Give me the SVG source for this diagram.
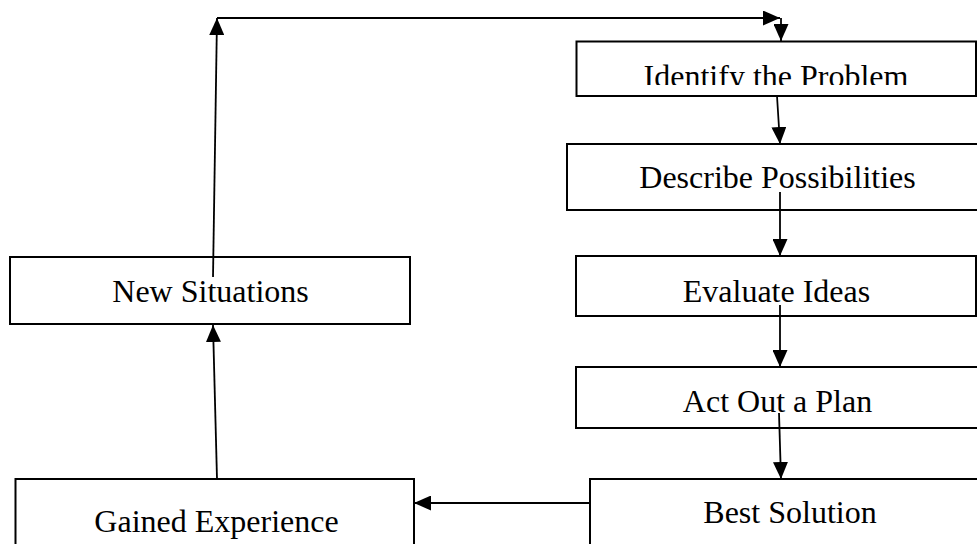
<svg xmlns="http://www.w3.org/2000/svg" width="977" height="544" viewBox="0 0 977 544">
<style>
.box{fill:#fff;stroke:#000;stroke-width:2}
.lbl{font-family:"Liberation Serif","Times New Roman",serif;font-size:32px;fill:#000;text-anchor:middle}
.con{fill:none;stroke:#000;stroke-width:1.8;marker-end:url(#ah)}
</style>
<defs>
<marker id="ah" markerUnits="userSpaceOnUse" markerWidth="17" markerHeight="15" refX="17" refY="7.5" orient="auto">
<path d="M0,0 L17,7.5 L0,15 z" fill="#000"/>
</marker>
<clipPath id="clipId"><rect x="577" y="42" width="398" height="43"/></clipPath>
</defs>
<rect width="977" height="544" fill="#fff"/>
<g id="identify">
<rect class="box" x="576.5" y="41.5" width="399.5" height="54.5"/>
<text class="lbl" x="776" y="87" clip-path="url(#clipId)">Identify the Problem</text>
</g>
<g id="describe">
<rect class="box" x="567" y="144" width="420" height="66"/>
<text class="lbl" x="777.5" y="188">Describe Possibilities</text>
</g>
<g id="evaluate">
<rect class="box" x="576" y="256" width="400" height="60"/>
<text class="lbl" x="776.5" y="302">Evaluate Ideas</text>
</g>
<g id="act">
<rect class="box" x="576" y="367" width="410" height="61"/>
<text class="lbl" x="777.5" y="412">Act Out a Plan</text>
</g>
<g id="best">
<rect class="box" x="590" y="479" width="400" height="80"/>
<text class="lbl" x="790" y="523">Best Solution</text>
</g>
<g id="gained">
<rect class="box" x="15.5" y="479" width="398.5" height="80"/>
<text class="lbl" x="216.5" y="532">Gained Experience</text>
</g>
<g id="new">
<rect class="box" x="10" y="257" width="400" height="67"/>
<text class="lbl" x="210.5" y="302">New Situations</text>
</g>
<g id="connectors">
<line class="con" x1="217" y1="479" x2="213" y2="325"/>
<line class="con" x1="213" y1="277" x2="217" y2="18"/>
<line class="con" x1="217" y1="18" x2="780" y2="18"/>
<line class="con" x1="781" y1="18" x2="781" y2="41"/>
<line class="con" x1="777" y1="96" x2="780" y2="144"/>
<line class="con" x1="780" y1="192" x2="780" y2="256"/>
<line class="con" x1="780" y1="305" x2="780" y2="367"/>
<line class="con" x1="779" y1="413" x2="781" y2="479"/>
<line class="con" x1="590" y1="503" x2="414" y2="503"/>
</g>
</svg>
